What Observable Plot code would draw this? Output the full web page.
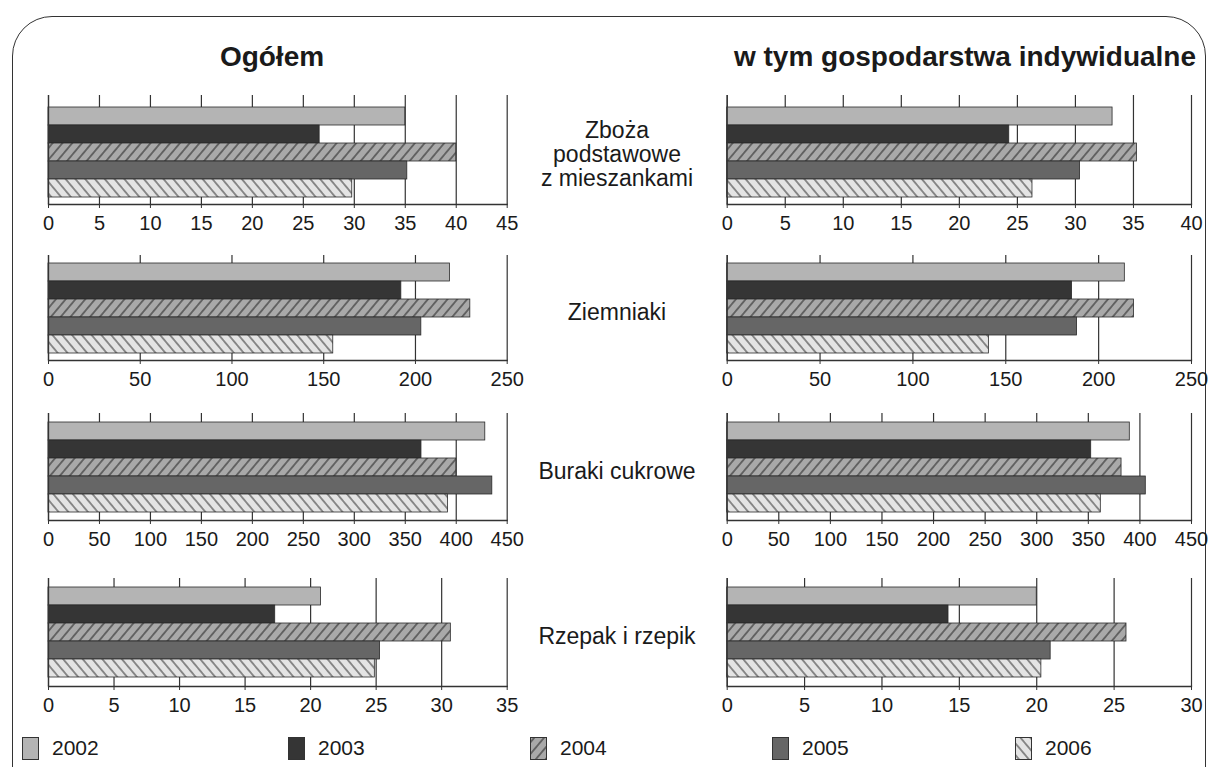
<!DOCTYPE html>
<html>
<head>
<meta charset="utf-8">
<script src="https://cdn.jsdelivr.net/npm/d3@7"></script>
<script src="https://cdn.jsdelivr.net/npm/@observablehq/plot@0.6"></script>
<style>
html, body { margin: 0; padding: 0; background: #fff; }
body { width: 1208px; height: 767px; overflow: hidden; position: relative;
  font-family: "Liberation Sans", Arial, sans-serif; color: #1a1a1a; }
#border { position: absolute; left: 12px; top: 16px; width: 1194px; height: 800px;
  border: 1.3px solid #333; border-radius: 40px; box-sizing: border-box; }
.title { position: absolute; font-weight: bold; font-size: 28px; white-space: nowrap;
  transform: translate(-50%, -50%); }
.cat { position: absolute; font-size: 23px; line-height: 24px; text-align: center;
  white-space: nowrap; transform: translate(-50%, -50%); }
.panel { position: absolute; }
.leg { position: absolute; display: flex; align-items: center; font-size: 21px; }
.leg svg { margin-right: 13px; }
</style>
</head>
<body>
<svg width="0" height="0" style="position:absolute">
  <defs>
    <pattern id="hatch04" patternUnits="userSpaceOnUse" width="7.5" height="7.5" patternTransform="rotate(40)">
      <rect width="7.5" height="7.5" fill="#a9a9a9"></rect>
      <line x1="3.75" y1="0" x2="3.75" y2="7.5" stroke="#222" stroke-width="1"></line>
    </pattern>
    <pattern id="hatch06" patternUnits="userSpaceOnUse" width="7.5" height="7.5" patternTransform="rotate(-40)">
      <rect width="7.5" height="7.5" fill="#e4e4e4"></rect>
      <line x1="3.75" y1="0" x2="3.75" y2="7.5" stroke="#333" stroke-width="1"></line>
    </pattern>
  </defs>
</svg>
<div id="border"></div>
<div id="root"></div>
<script>
// ---- data ----
const years = ["2002", "2003", "2004", "2005", "2006"];
const cropLabels = [["Zboża", "podstawowe", "z mieszankami"], ["Ziemniaki"], ["Buraki cukrowe"], ["Rzepak i rzepik"]];
const titles = ["Ogółem", "w tym gospodarstwa indywidualne"];

const zbozaOgolem     = [35.0, 26.6, 40.0, 35.2, 29.8];
const zbozaIndyw      = [33.2, 24.3, 35.3, 30.4, 26.3];
const ziemniakiOgolem = [218.8, 192.3, 229.9, 203.2, 155.2];
const ziemniakiIndyw  = [214.1, 185.7, 219.0, 188.4, 140.9];
const burakiOgolem    = [428.5, 365.9, 400.1, 435.4, 392.0];
const burakiIndyw     = [390.2, 352.8, 382.2, 405.7, 362.1];
const rzepakOgolem    = [20.8, 17.3, 30.7, 25.3, 24.9];
const rzepakIndyw     = [20.0, 14.3, 25.8, 20.9, 20.3];

const axisMaxOgolem = [45, 250, 450, 35];
const axisMaxIndyw  = [40, 250, 450, 30];
const tickStep      = [5, 50, 50, 5];

const fills = ["#b4b4b4", "#353535", "url(#hatch04)", "#666666", "url(#hatch06)"];

const ogolemSeries = [zbozaOgolem, ziemniakiOgolem, burakiOgolem, rzepakOgolem];
const indywSeries  = [zbozaIndyw, ziemniakiIndyw, burakiIndyw, rzepakIndyw];

// ---- layout ----
const panelTop    = [95, 255, 413, 578];
const panelBottom = [204, 360, 520, 686];
const barTop      = [106, 262, 420, 585];
const barBottom   = [197, 353, 513, 678];
const columns = [
  {left: 0, width: 540, x0: 48, x1: 506.7, series: ogolemSeries, max: axisMaxOgolem, titleX: 272},
  {left: 680, width: 528, x0: 726.7, x1: 1191, series: indywSeries, max: axisMaxIndyw, titleX: 965}
];
const root = document.getElementById("root");

function makePanel(col, i) {
  const values = col.series[i];
  const max = col.max[i];
  const step = tickStep[i];
  const data = years.map((y, k) => ({year: y, value: values[k]}));
  const ticks = d3.range(0, max + step / 2, step);
  const top = panelTop[i];
  const h = panelBottom[i] - top;
  const plot = Plot.plot({
    width: col.width,
    height: h + 40,
    marginLeft: col.x0 - col.left,
    marginRight: col.left + col.width - col.x1,
    marginTop: 0,
    marginBottom: 40,
    x: {domain: [0, max], label: null},
    y: {type: "band", domain: years, range: [barTop[i] - top, barBottom[i] - top], padding: 0, axis: null},
    color: {type: "ordinal", domain: years, range: fills},
    style: {fontFamily: "'Liberation Sans', Arial, sans-serif", fontSize: "20px", color: "#1a1a1a",
            background: "transparent", overflow: "visible"},
    marks: [
      Plot.gridX(ticks, {stroke: "#333", strokeOpacity: 1, strokeWidth: 1.2}),
      Plot.barX(data, {x: "value", y: "year", fill: "year", stroke: "#2a2a2a", strokeWidth: 0.8}),
      Plot.ruleX([0], {stroke: "#333", strokeWidth: 1.3}),
      Plot.frame({anchor: "bottom", stroke: "#333", strokeWidth: 1.3}),
      Plot.axisX(ticks, {anchor: "bottom", tickSize: 4, tickPadding: 7, fontSize: 20, label: null,
                         tickFormat: d => String(d), stroke: "#333"})
    ]
  });
  plot.classList.add("panel");
  plot.style.left = col.left + "px";
  plot.style.top = top + "px";
  root.appendChild(plot);
}

columns.forEach((col, c) => {
  const t = document.createElement("div");
  t.className = "title";
  t.textContent = titles[c];
  t.style.left = col.titleX + "px";
  t.style.top = "57px";
  root.appendChild(t);
  for (let i = 0; i < 4; i++) makePanel(col, i);
});

cropLabels.forEach((lines, i) => {
  const d = document.createElement("div");
  d.className = "cat";
  d.innerHTML = lines.join("<br>");
  d.style.left = "617px";
  d.style.top = ((panelTop[i] + panelBottom[i]) / 2 + 4) + "px";
  root.appendChild(d);
});

// legend
const legendX = [22, 288, 530, 772, 1015];
years.forEach((y, k) => {
  const item = document.createElement("div");
  item.className = "leg";
  item.style.left = legendX[k] + "px";
  item.style.top = "736px";
  item.innerHTML = `<svg width="17" height="23"><rect x="0.5" y="0.5" width="16" height="22" fill="${fills[k]}" stroke="#333" stroke-width="1"></rect></svg><span>${y}</span>`;
  root.appendChild(item);
});
</script>
</body>
</html>
